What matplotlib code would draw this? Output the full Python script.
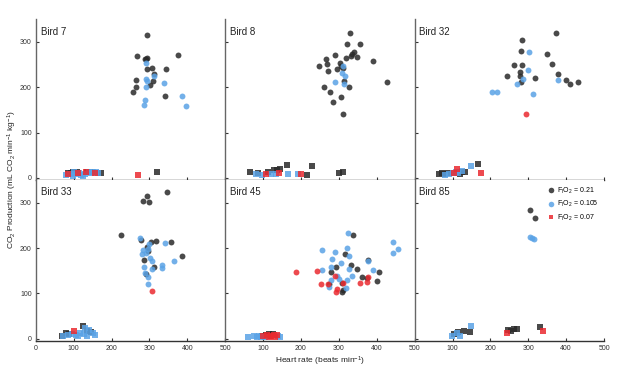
import matplotlib
matplotlib.use("Agg")
import matplotlib.pyplot as plt
from matplotlib.lines import Line2D

plt.rcParams['font.family'] = ['Liberation Sans', 'DejaVu Sans']
plt.rcParams['mathtext.default'] = 'regular'

# ---------------- data (heart rate, CO2 production) ----------------
birds = ["Bird 7", "Bird 8", "Bird 32", "Bird 33", "Bird 45", "Bird 85"]

# Bird 7
b7_hi_21_x = [294, 268, 288, 291, 293, 376, 264, 294, 306, 344, 312, 309, 301, 264, 256, 340]
b7_hi_21_y = [316, 268, 262, 263, 265, 272, 217, 240, 242, 241, 229, 214, 206, 201, 190, 181]
b7_hi_105_x = [290, 290, 294, 291, 311, 338, 289, 286, 385, 397]
b7_hi_105_y = [253, 219, 214, 201, 225, 209, 172, 160, 181, 159]
b7_hi_07_x = []
b7_hi_07_y = []
b7_lo_21_x = [86, 92, 97, 110, 135, 148, 171, 320]
b7_lo_21_y = [10, 11, 13, 12, 14, 14, 10, 13]
b7_lo_105_x = [79, 90, 98, 100, 105, 115, 120, 125, 130, 140, 145, 150, 158, 165]
b7_lo_105_y = [6, 8, 5, 12, 9, 11, 7, 4, 9, 12, 10, 13, 14, 11]
b7_lo_07_x = [84, 111, 133, 156, 269]
b7_lo_07_y = [9, 10, 12, 11, 7]

# Bird 8
b8_hi_21_x = [329, 321, 356, 290, 339, 336, 333, 319, 349, 266, 389, 303, 268, 247, 305, 312,
              295, 271, 314, 426, 261, 326, 276, 305, 285, 312]
b8_hi_21_y = [319, 295, 296, 272, 277, 274, 269, 265, 266, 262, 259, 254, 252, 247, 248, 242,
              240, 235, 213, 211, 201, 200, 189, 179, 167, 142]
b8_hi_105_x = [310, 308, 315, 290, 314]
b8_hi_105_y = [246, 232, 224, 212, 207]
b8_hi_07_x = []
b8_hi_07_y = []
b8_lo_21_x = [65, 87, 112, 129, 136, 145, 164, 228, 216, 301, 310]
b8_lo_21_y = [12, 11, 14, 18, 18, 20, 28, 26, 7, 10, 14]
b8_lo_105_x = [81, 96, 121, 134, 165, 192]
b8_lo_105_y = [9, 7, 8, 8, 9, 8]
b8_lo_07_x = [107, 142, 200]
b8_lo_07_y = [9, 10, 9]

# Bird 32
b32_hi_21_x = [373, 283, 282, 349, 262, 283, 363, 277, 243, 278, 318, 378, 400, 280, 409, 431]
b32_hi_21_y = [319, 305, 280, 273, 249, 250, 252, 233, 225, 225, 221, 229, 216, 212, 207, 211]
b32_hi_105_x = [303, 298, 286, 270, 205, 217, 312, 378]
b32_hi_105_y = [277, 238, 219, 208, 190, 190, 185, 215]
b32_hi_07_x = [293]
b32_hi_07_y = [140]
b32_lo_21_x = [64, 71, 80, 88, 120, 126, 133, 168]
b32_lo_21_y = [9, 11, 8, 10, 9, 12, 13, 31]
b32_lo_105_x = [79, 92, 100, 108, 115, 125, 148]
b32_lo_105_y = [7, 8, 11, 13, 10, 16, 27]
b32_lo_07_x = [105, 113, 174]
b32_lo_07_y = [10, 20, 10]

# Bird 33
b33_hi_21_x = [294, 284, 298, 346, 225, 278, 303, 318, 358, 294, 296, 285, 387, 313, 290]
b33_hi_21_y = [316, 305, 301, 323, 228, 218, 213, 215, 214, 202, 194, 174, 182, 158, 142]
b33_hi_105_x = [274, 298, 283, 290, 295, 280, 340, 301, 306, 365, 334, 334, 286, 306, 289, 296, 295]
b33_hi_105_y = [222, 209, 195, 190, 197, 186, 211, 178, 172, 172, 162, 157, 158, 153, 145, 136, 120]
b33_hi_07_x = [308]
b33_hi_07_y = [106]
b33_lo_21_x = [68, 79, 88, 124, 136, 145]
b33_lo_21_y = [7, 12, 10, 27, 17, 14]
b33_lo_105_x = [72, 85, 95, 105, 112, 118, 128, 130, 135, 140, 150, 155]
b33_lo_105_y = [5, 8, 11, 9, 6, 13, 10, 23, 7, 20, 12, 8]
b33_lo_07_x = [101]
b33_lo_07_y = [16]

# Bird 45
b45_hi_21_x = [338, 316, 332, 292, 376, 347, 280, 406, 362, 375, 309, 273, 401, 312, 308]
b45_hi_21_y = [228, 187, 163, 158, 173, 154, 147, 148, 137, 135, 123, 121, 128, 107, 104]
b45_hi_105_x = [323, 444, 457, 443, 256, 289, 321, 326, 281, 305, 280, 377, 255, 327, 390,
                334, 296, 300, 321, 279, 274, 319]
b45_hi_105_y = [234, 214, 197, 189, 196, 192, 200, 182, 175, 167, 159, 172, 152, 153, 152,
                139, 139, 131, 130, 130, 114, 111]
b45_hi_07_x = [186, 241, 290, 252, 272, 311, 295, 293, 356, 376, 374]
b45_hi_07_y = [147, 150, 139, 120, 120, 123, 109, 102, 122, 136, 125]
b45_lo_21_x = [98, 108, 116, 118, 125]
b45_lo_21_y = [7, 8, 10, 5, 11]
b45_lo_105_x = [60, 75, 85, 90, 95, 105, 140, 145]
b45_lo_105_y = [3, 5, 4, 6, 3, 4, 6, 3]
b45_lo_07_x = [100, 110, 115, 120, 128, 132, 137]
b45_lo_07_y = [5, 8, 3, 6, 9, 4, 8]

# Bird 85
b85_hi_21_x = [304, 318]
b85_hi_21_y = [284, 267]
b85_hi_105_x = [304, 309, 315]
b85_hi_105_y = [225, 222, 219]
b85_hi_07_x = []
b85_hi_07_y = []
b85_lo_21_x = [103, 115, 131, 145, 247, 254, 263, 269, 331]
b85_lo_21_y = [10, 15, 17, 15, 20, 18, 21, 21, 26]
b85_lo_105_x = [149, 98, 120, 112]
b85_lo_105_y = [29, 7, 7, 12]
b85_lo_07_x = [243, 340]
b85_lo_07_y = [13, 18]

legend_labels = [r'F$_I$O$_2$ = 0.21', r'F$_I$O$_2$ = 0.105', r'F$_I$O$_2$ = 0.07']
x_ticks = [0, 100, 200, 300, 400, 500]
x_ticklabels = ['0', '100', '200', '300', '400', '500']
y_ticks = [0, 100, 200, 300]

panels = [
    (b7_hi_21_x, b7_hi_21_y, b7_hi_105_x, b7_hi_105_y, b7_hi_07_x, b7_hi_07_y,
     b7_lo_21_x, b7_lo_21_y, b7_lo_105_x, b7_lo_105_y, b7_lo_07_x, b7_lo_07_y),
    (b8_hi_21_x, b8_hi_21_y, b8_hi_105_x, b8_hi_105_y, b8_hi_07_x, b8_hi_07_y,
     b8_lo_21_x, b8_lo_21_y, b8_lo_105_x, b8_lo_105_y, b8_lo_07_x, b8_lo_07_y),
    (b32_hi_21_x, b32_hi_21_y, b32_hi_105_x, b32_hi_105_y, b32_hi_07_x, b32_hi_07_y,
     b32_lo_21_x, b32_lo_21_y, b32_lo_105_x, b32_lo_105_y, b32_lo_07_x, b32_lo_07_y),
    (b33_hi_21_x, b33_hi_21_y, b33_hi_105_x, b33_hi_105_y, b33_hi_07_x, b33_hi_07_y,
     b33_lo_21_x, b33_lo_21_y, b33_lo_105_x, b33_lo_105_y, b33_lo_07_x, b33_lo_07_y),
    (b45_hi_21_x, b45_hi_21_y, b45_hi_105_x, b45_hi_105_y, b45_hi_07_x, b45_hi_07_y,
     b45_lo_21_x, b45_lo_21_y, b45_lo_105_x, b45_lo_105_y, b45_lo_07_x, b45_lo_07_y),
    (b85_hi_21_x, b85_hi_21_y, b85_hi_105_x, b85_hi_105_y, b85_hi_07_x, b85_hi_07_y,
     b85_lo_21_x, b85_lo_21_y, b85_lo_105_x, b85_lo_105_y, b85_lo_07_x, b85_lo_07_y),
]

# ---------------- styling ----------------
c_black = '#2a2a2a'
c_blue = '#5aa3e6'
c_red = '#ea2a30'
colors = [c_black, c_blue, c_red]
s_circ = 18
s_sq = 13
alpha = 0.85

fig = plt.figure(figsize=(6.17, 3.71), dpi=100)
gs = fig.add_gridspec(2, 3, left=0.058, right=0.979, top=0.948, bottom=0.081,
                      wspace=0, hspace=0)

for i, (name, data) in enumerate(zip(birds, panels)):
    r, c = divmod(i, 3)
    ax = fig.add_subplot(gs[r, c])
    for k in range(3):
        ax.scatter(data[6 + 2 * k], data[7 + 2 * k], marker='s', s=s_sq,
                   color=colors[k], alpha=alpha, linewidths=0, zorder=3)
    for k in range(3):
        ax.scatter(data[2 * k], data[2 * k + 1], marker='o', s=s_circ,
                   color=colors[k], alpha=alpha, linewidths=0, zorder=3)
    ax.set_xlim(0, 500)
    ax.set_ylim(-5, 350)
    for sp in ['top', 'right']:
        ax.spines[sp].set_visible(False)
    ax.spines['left'].set_color('#666666')
    ax.spines['bottom'].set_color('#333333')
    ax.spines['left'].set_linewidth(1.0)
    ax.spines['bottom'].set_linewidth(1.0)
    ax.set_xticks(x_ticks)
    # the "0" of inner columns sits under the neighbouring "500"
    labels = list(x_ticklabels)
    if c != 0:
        labels[0] = ''
    ax.set_xticklabels(labels)
    ax.set_yticks(y_ticks)
    ax.tick_params(direction='in', length=2.5, width=0.8, labelsize=5,
                   colors='#333333', pad=3)
    if c != 0:
        ax.tick_params(labelleft=False)
    if r == 0:
        ax.tick_params(labelbottom=False)
    ax.text(0.025, 0.955, name, transform=ax.transAxes, fontsize=7,
            ha='left', va='top', color='#222222')
    if i == 5:
        handles = [
            Line2D([], [], marker='o', linestyle='none', color=c_black, alpha=alpha,
                   markersize=4, markeredgewidth=0),
            Line2D([], [], marker='o', linestyle='none', color=c_blue, alpha=alpha,
                   markersize=4, markeredgewidth=0),
            Line2D([], [], marker='s', linestyle='none', color=c_red, alpha=alpha,
                   markersize=3.5, markeredgewidth=0),
        ]
        ax.legend(handles, legend_labels, loc='upper right', frameon=False,
                  fontsize=5, handletextpad=0.2, labelspacing=0.45,
                  borderaxespad=0.4, handlelength=1.2)

fig.text(0.02, 0.515, r'CO$_2$ Production (mL CO$_2$ min$^{-1}$ kg$^{-1}$)',
         rotation=90, ha='center', va='center', fontsize=6, color='#222222')
fig.text(0.518, 0.027, r'Heart rate (beats min$^{-1}$)', ha='center', va='center',
         fontsize=6, color='#222222')

fig.savefig('out.png', dpi=100)
